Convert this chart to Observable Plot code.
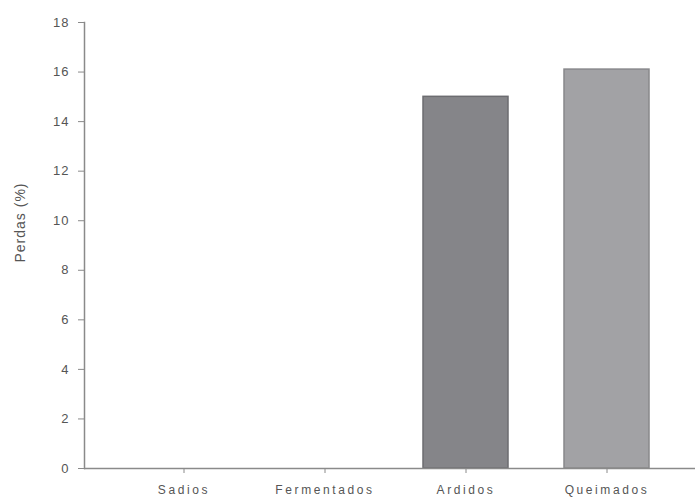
<!DOCTYPE html>
<html>
<head>
<meta charset="utf-8">
<script src="https://cdn.jsdelivr.net/npm/d3@7"></script>
<script src="https://cdn.jsdelivr.net/npm/@observablehq/plot@0.6"></script>
<style>
  html, body { margin: 0; padding: 0; background: #fff; }
  svg { display: block; }
  svg g[aria-label="x-axis tick label"] text { letter-spacing: 2.6px; }
  svg g[aria-label="y-axis tick label"] text { letter-spacing: 1px; }
  svg g[aria-label="text"] text { letter-spacing: 1px; }
</style>
</head>
<body>
<div id="chart"></div>
<script>
const categories = ["Sadios", "Fermentados", "Ardidos", "Queimados"];
const values = [0, 0, 15.0, 16.1];
const fills = ["#858589", "#858589", "#858589", "#a2a2a5"];
const strokes = ["#6c6c70", "#6c6c70", "#6c6c70", "#88888b"];
const yTicks = [0, 2, 4, 6, 8, 10, 12, 14, 16, 18];
const yLabel = "Perdas (%)";

const data = categories.map((c, i) => ({category: c, value: values[i], fill: fills[i], stroke: strokes[i]}));

const chart = Plot.plot({
  width: 695,
  height: 499,
  marginLeft: 84,
  marginRight: 0,
  marginTop: 22,
  marginBottom: 31,
  style: {fontFamily: "Liberation Sans, Arial, sans-serif", fontSize: "13px", color: "#555"},
  x: {domain: categories, range: [112.5, 676.5], paddingInner: 0.4, paddingOuter: 0.2, label: null},
  y: {domain: [0, 18], label: null},
  marks: [
    Plot.barY(data.filter(d => d.value > 0), {x: "category", y: "value", fill: "fill", stroke: "stroke", strokeWidth: 1.5}),
    Plot.ruleY([0], {stroke: "#8a8a8a", strokeWidth: 1.5}),
    Plot.frame({anchor: "left", stroke: "#8a8a8a", strokeWidth: 1.5}),
    Plot.axisY({ticks: yTicks, tickSize: 6, tickPadding: 9, stroke: "#8a8a8a", label: null, fill: "#555", fontSize: 13}),
    Plot.axisX({tickSize: 5, tickPadding: 12, stroke: "#8a8a8a", label: null, fill: "#555", fontSize: 12}),
    Plot.text([yLabel], {frameAnchor: "left", textAnchor: "middle", dx: -64, dy: -23, rotate: -90, fontSize: 14, fill: "#555"})
  ]
});
document.getElementById("chart").appendChild(chart);
</script>
</body>
</html>
